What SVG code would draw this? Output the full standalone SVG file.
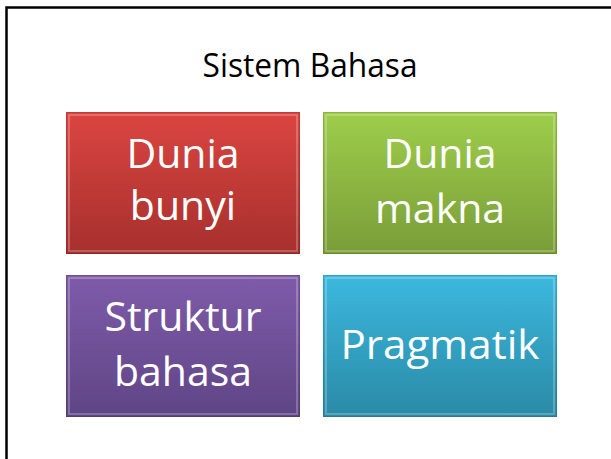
<svg xmlns="http://www.w3.org/2000/svg" width="611" height="459" viewBox="0 0 611 459">
<style>
.t{font-family:"Open Sans","Noto Sans","Liberation Sans",sans-serif;fill:#fff;text-anchor:middle;font-size:41px}
.title{font-family:"Open Sans","Noto Sans","Liberation Sans",sans-serif;fill:#000;text-anchor:middle;font-size:32px}
.bev{fill:none;stroke:#fff;stroke-opacity:0.3;stroke-width:1.5}
.edge{fill:none;stroke:#000;stroke-opacity:0.12;stroke-width:1}
</style>
<defs>
<linearGradient id="gr" x1="0" y1="0" x2="0" y2="1"><stop offset="0" stop-color="#DB4541"/><stop offset="1" stop-color="#A6302D"/></linearGradient>
<linearGradient id="gg" x1="0" y1="0" x2="0" y2="1"><stop offset="0" stop-color="#9ECE4B"/><stop offset="1" stop-color="#799D38"/></linearGradient>
<linearGradient id="gp" x1="0" y1="0" x2="0" y2="1"><stop offset="0" stop-color="#7F5BAA"/><stop offset="1" stop-color="#5F4585"/></linearGradient>
<linearGradient id="gt" x1="0" y1="0" x2="0" y2="1"><stop offset="0" stop-color="#3CB8DE"/><stop offset="1" stop-color="#2A8AA6"/></linearGradient>
</defs>
<rect width="611" height="459" fill="#fff"/>
<path d="M6.5 459 V7.5 H611" fill="none" stroke="#000" stroke-width="2.5"/>
<text class="title" x="310" y="77" textLength="215" lengthAdjust="spacingAndGlyphs">Sistem Bahasa</text>
<g id="dunia-bunyi">
<rect x="66" y="112" width="234" height="142" fill="url(#gr)"/>
<rect x="69" y="115" width="228" height="136" class="bev"/>
<rect x="66.5" y="112.5" width="233" height="141" class="edge"/>
<text class="t" x="183" y="168">Dunia</text>
<text class="t" x="183" y="220">bunyi</text>
</g>
<g id="dunia-makna">
<rect x="323" y="112" width="234" height="142" fill="url(#gg)"/>
<rect x="326" y="115" width="228" height="136" class="bev"/>
<rect x="323.5" y="112.5" width="233" height="141" class="edge"/>
<text class="t" x="440" y="168">Dunia</text>
<text class="t" x="440" y="223">makna</text>
</g>
<g id="struktur-bahasa">
<rect x="66" y="275" width="234" height="142" fill="url(#gp)"/>
<rect x="69" y="278" width="228" height="136" class="bev"/>
<rect x="66.5" y="275.5" width="233" height="141" class="edge"/>
<text class="t" x="183" y="331">Struktur</text>
<text class="t" x="183" y="386">bahasa</text>
</g>
<g id="pragmatik">
<rect x="323" y="275" width="234" height="142" fill="url(#gt)"/>
<rect x="326" y="278" width="228" height="136" class="bev"/>
<rect x="323.5" y="275.5" width="233" height="141" class="edge"/>
<text class="t" x="440" y="359" textLength="199" lengthAdjust="spacingAndGlyphs">Pragmatik</text>
</g>
<g id="connectors"></g>
</svg>
